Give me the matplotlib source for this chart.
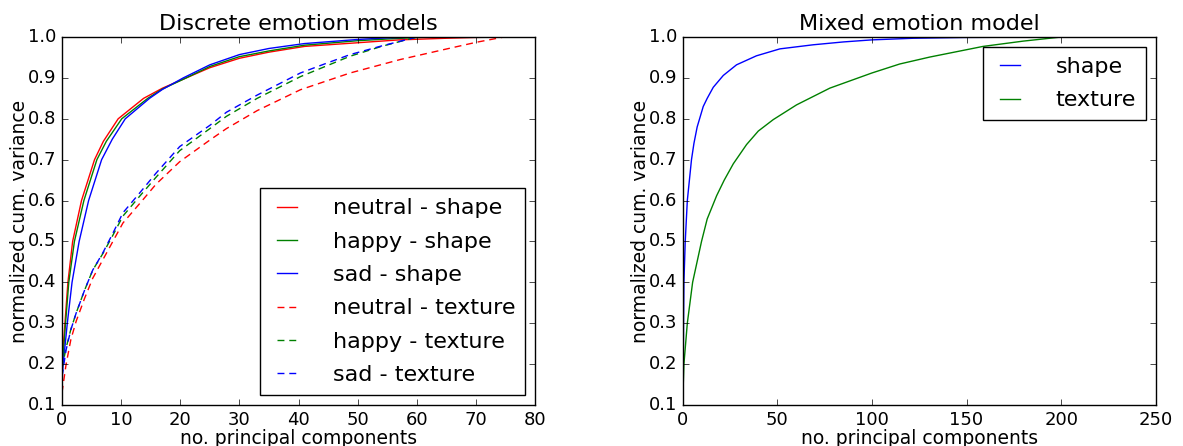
import matplotlib
matplotlib.use("Agg")
import matplotlib.pyplot as plt
from matplotlib.ticker import FormatStrFormatter

# --- Discrete emotion models ---
neutral_shape_x = [0, 0.5, 1.0, 1.8, 3.3, 5.5, 7.0, 9.5, 13.8, 17, 21, 25, 30, 35, 41, 50, 57, 65, 70, 75]
neutral_shape = [0.2, 0.3, 0.4, 0.5, 0.6, 0.7, 0.745, 0.8, 0.85, 0.875, 0.9, 0.925, 0.948, 0.963, 0.977, 0.986, 0.993, 0.997, 0.999, 1.0]
happy_shape_x = [0, 0.6, 1.15, 2.1, 3.7, 5.9, 7.5, 10.1, 14.5, 17, 21, 25, 30, 35, 41, 50, 56, 62]
happy_shape = [0.18, 0.3, 0.4, 0.5, 0.6, 0.7, 0.745, 0.8, 0.85, 0.873, 0.9, 0.928, 0.952, 0.966, 0.980, 0.991, 0.996, 1.0]
sad_shape_x = [0, 0.2, 0.9, 1.7, 2.9, 4.5, 6.7, 8.5, 10.7, 14.8, 17, 20.5, 25, 30, 35, 41, 50, 55, 60]
sad_shape = [0.16, 0.2, 0.3, 0.4, 0.5, 0.6, 0.7, 0.75, 0.8, 0.85, 0.872, 0.9, 0.932, 0.957, 0.972, 0.984, 0.994, 0.998, 1.0]

neutral_texture_x = [0, 0.7, 1.5, 2.4, 3.8, 5.2, 6.9, 8.6, 10.3, 13.1, 15.9, 19.9, 25, 27.8, 33, 40.3, 48.7, 57.2, 65.7, 70, 74.7]
neutral_texture = [0.13, 0.2, 0.26, 0.305, 0.36, 0.41, 0.455, 0.5, 0.545, 0.592, 0.64, 0.695, 0.748, 0.776, 0.82, 0.871, 0.912, 0.945, 0.973, 0.987, 1.0]
happy_texture_x = [0, 0.7, 1.5, 2.4, 3.8, 5.2, 6.9, 8.6, 10.3, 13.1, 15.9, 19.9, 25, 27.8, 33, 40.3, 44, 48.7, 54, 60]
happy_texture = [0.19, 0.24, 0.285, 0.325, 0.38, 0.43, 0.47, 0.515, 0.562, 0.61, 0.657, 0.722, 0.776, 0.806, 0.85, 0.903, 0.925, 0.953, 0.977, 1.0]
sad_texture_x = [0, 0.7, 1.5, 2.4, 3.8, 5.2, 6.9, 8.6, 10.3, 13.1, 15.9, 19.9, 25, 27.8, 33, 40.3, 44, 48.7, 54, 60]
sad_texture = [0.17, 0.235, 0.284, 0.325, 0.38, 0.43, 0.472, 0.52, 0.57, 0.618, 0.667, 0.732, 0.784, 0.816, 0.858, 0.912, 0.932, 0.957, 0.978, 1.0]

# --- Mixed emotion model ---
mixed_shape_x = [0, 0.35, 0.5, 0.7, 1.4, 2.5, 4.7, 6.0, 7.7, 10.9, 13, 16.2, 21.5, 28.5, 39, 51.4, 69, 85, 100, 122, 150, 200]
mixed_shape = [0.1, 0.2, 0.3, 0.4, 0.5, 0.6, 0.7, 0.74, 0.78, 0.83, 0.85, 0.877, 0.906, 0.932, 0.954, 0.971, 0.981, 0.988, 0.993, 0.997, 0.999, 1.0]
mixed_texture_x = [0, 0.7, 2.5, 5.3, 10, 13, 18, 22, 26.8, 33.8, 40, 47.9, 60.2, 77.8, 100, 114.7, 130.6, 158.7, 180, 200]
mixed_texture = [0.1, 0.2, 0.3, 0.4, 0.5, 0.555, 0.612, 0.65, 0.69, 0.737, 0.77, 0.798, 0.834, 0.875, 0.912, 0.934, 0.951, 0.977, 0.99, 1.0]

plt.style.use("classic")
plt.rcParams["font.family"] = "DejaVu Sans"
plt.rcParams["lines.dashed_pattern"] = [5, 3.5]

fig = plt.figure(figsize=(11.83, 4.46), dpi=100, facecolor="white")
ax1 = fig.add_axes([0.0524, 0.092, 0.400, 0.825])
ax2 = fig.add_axes([0.577, 0.092, 0.400, 0.825])

legend_kw = dict(fontsize=16, handlelength=1.5, handletextpad=1.3,
                 borderpad=0.45, labelspacing=0.6, borderaxespad=0.45,
                 fancybox=False)

ax1.plot(neutral_shape_x, neutral_shape, "r-", label="neutral - shape")
ax1.plot(happy_shape_x, happy_shape, "g-", label="happy - shape")
ax1.plot(sad_shape_x, sad_shape, "b-", label="sad - shape")
ax1.plot(neutral_texture_x, neutral_texture, "r--", label="neutral - texture")
ax1.plot(happy_texture_x, happy_texture, "g--", label="happy - texture")
ax1.plot(sad_texture_x, sad_texture, "b--", label="sad - texture")
ax1.set_xlim(0, 80)
ax1.set_xticks(range(0, 81, 10))
ax1.set_title("Discrete emotion models", fontsize=16)
ax1.legend(loc="lower right", **legend_kw)

ax2.plot(mixed_shape_x, mixed_shape, "b-", label="shape")
ax2.plot(mixed_texture_x, mixed_texture, "g-", label="texture")
ax2.set_xlim(0, 250)
ax2.set_xticks(range(0, 251, 50))
ax2.set_title("Mixed emotion model", fontsize=16)
ax2.legend(loc="upper right", **legend_kw)

for ax in (ax1, ax2):
    ax.set_ylim(0.1, 1.0)
    ax.set_yticks([0.1 * i for i in range(1, 11)])
    ax.yaxis.set_major_formatter(FormatStrFormatter("%.1f"))
    ax.tick_params(labelsize=13)
    ax.set_xlabel("no. principal components", fontsize=13.5, labelpad=0)
    ax.set_ylabel("normalized cum. variance", fontsize=13.5, labelpad=-1)

fig.savefig("out.png", dpi=100, facecolor="white")
